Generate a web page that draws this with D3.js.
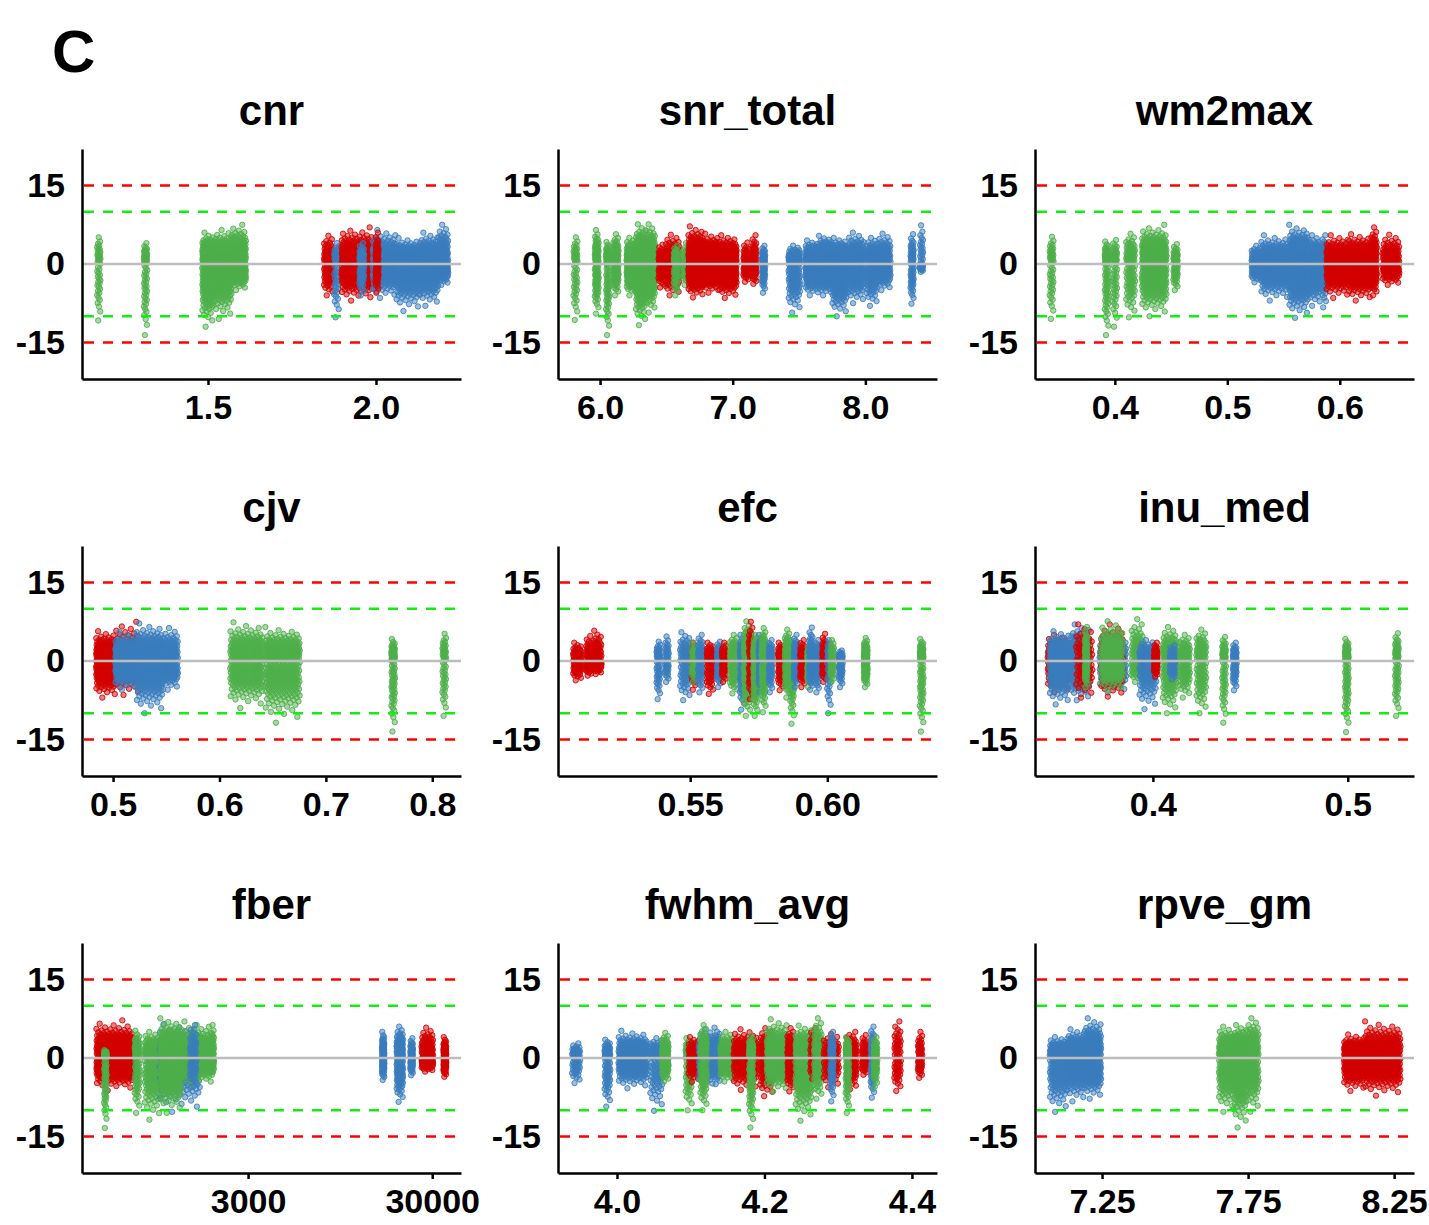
<!DOCTYPE html>
<html>
<head>
<meta charset="utf-8">
<script src="https://cdn.jsdelivr.net/npm/d3@7"></script>
<style>
  body { margin: 0; background: #fff; }
  svg { display: block; }
  text { font-family: "Liberation Sans", Arial, sans-serif; font-weight: bold; fill: #000; }
</style>
</head>
<body>
<svg id="chart" width="1429" height="1225"></svg>
<script>
// panel titles, x domains and x ticks
const panelNames = ["cnr", "snr_total", "wm2max", "cjv", "efc", "inu_med", "fber", "fwhm_avg", "rpve_gm"];
const xDomains = [[1.125, 2.253], [5.683, 8.54], [0.329, 0.666], [0.4708, 0.827], [0.5018, 0.640],
                  [0.3395, 0.534], [376, 43000], [3.920, 4.434], [7.0205, 8.318]];
const xTicks = [[1.5, 2.0], [6, 7, 8], [0.4, 0.5, 0.6], [0.5, 0.6, 0.7, 0.8], [0.55, 0.60],
                [0.4, 0.5], [3000, 30000], [4.0, 4.2, 4.4], [7.25, 7.75, 8.25]];
const xTickLabels = [["1.5", "2.0"], ["6.0", "7.0", "8.0"], ["0.4", "0.5", "0.6"], ["0.5", "0.6", "0.7", "0.8"],
                     ["0.55", "0.60"], ["0.4", "0.5"], ["3000", "30000"], ["4.0", "4.2", "4.4"], ["7.25", "7.75", "8.25"]];
const yTicks = [-15, 0, 15];
const yTickLabels = ["-15", "0", "15"];
const yDomain = [-22, 22];
const limitLines = [15, 10, -10, -15];
const limitColors = ["#ff0000", "#11ee11", "#11ee11", "#ff0000"];

// jittered columns: [x from, x to, lowest y, highest y, number of points, group]
const cnrCols = [
  [1.170, 1.180, -10.8, 5.1, 45, "g"], [1.309, 1.319, -13.6, 4.0, 60, "g"],
  [1.483, 1.515, -12.0, 6.0, 250, "g"], [1.515, 1.570, -10.5, 6.5, 320, "g"], [1.570, 1.613, -5.0, 7.5, 280, "g"],
  [1.845, 1.872, -6.0, 5.4, 100, "r"], [1.875, 1.890, -10.2, 4.0, 50, "b"], [1.897, 1.990, -7.0, 7.0, 400, "r"],
  [1.950, 1.965, -6.0, 4.0, 60, "b"], [1.990, 2.060, -6.5, 6.5, 250, "b"], [1.998, 2.008, -5.5, 6.0, 60, "r"],
  [2.060, 2.130, -9.0, 5.0, 300, "b"], [2.130, 2.185, -8.0, 6.0, 250, "b"], [2.185, 2.215, -4.0, 7.5, 150, "b"]
];
const snrCols = [
  [5.80, 5.83, -10.7, 5.1, 50, "g"], [5.96, 5.99, -9.5, 6.5, 90, "g"], [6.045, 6.07, -13.6, 4.2, 80, "g"],
  [6.10, 6.14, -6.0, 5.7, 100, "g"], [6.20, 6.27, -6.0, 5.0, 200, "g"], [6.27, 6.345, -11.7, 7.6, 250, "g"],
  [6.345, 6.415, -9.3, 7.6, 200, "g"], [6.44, 6.48, -4.5, 3.7, 60, "r"], [6.49, 6.60, -6.0, 5.6, 150, "r"],
  [6.555, 6.59, -6.0, 3.5, 60, "g"], [6.625, 6.665, -4.0, 4.0, 50, "g"], [6.665, 6.78, -6.4, 7.2, 300, "r"],
  [6.78, 6.90, -5.5, 5.8, 300, "r"], [6.90, 7.03, -6.5, 5.5, 300, "r"], [7.08, 7.12, -3.4, 4.1, 60, "r"],
  [7.145, 7.18, -3.8, 5.5, 60, "r"], [7.22, 7.245, -5.5, 3.5, 60, "b"], [7.42, 7.51, -9.3, 3.5, 150, "b"],
  [7.55, 7.65, -6.0, 4.5, 300, "b"], [7.65, 7.75, -6.0, 5.4, 350, "b"], [7.75, 7.86, -10.0, 5.0, 300, "b"],
  [7.87, 7.99, -7.5, 6.0, 200, "b"], [8.01, 8.09, -8.0, 5.0, 150, "b"], [8.09, 8.19, -5.0, 5.8, 150, "b"],
  [8.34, 8.365, -7.6, 5.7, 60, "b"], [8.41, 8.435, -1.5, 7.4, 40, "b"]
];
const wm2Cols = [
  [0.342, 0.3455, -10.5, 5.2, 50, "g"], [0.391, 0.3945, -13.6, 4.3, 80, "g"], [0.398, 0.402, -12.0, 4.6, 60, "g"],
  [0.410, 0.418, -10.2, 5.8, 100, "g"], [0.424, 0.446, -10.0, 7.5, 400, "g"], [0.452, 0.456, -5.0, 3.8, 60, "g"],
  [0.5215, 0.530, -3.5, 3.5, 100, "b"], [0.530, 0.555, -7.0, 5.5, 300, "b"], [0.555, 0.572, -10.3, 7.5, 350, "b"],
  [0.572, 0.583, -8.0, 5.5, 200, "b"], [0.584, 0.588, -8.3, 5.5, 60, "b"], [0.588, 0.608, -6.5, 5.5, 250, "r"],
  [0.608, 0.628, -7.0, 5.7, 300, "r"], [0.628, 0.633, -6.0, 7.0, 100, "r"], [0.638, 0.653, -4.0, 5.6, 150, "r"]
];
const cjvCols = [
  [0.484, 0.503, -7.0, 5.7, 300, "r"], [0.503, 0.525, -6.5, 7.5, 120, "r"], [0.502, 0.522, -5.5, 5.5, 250, "b"],
  [0.522, 0.547, -10.0, 7.2, 300, "b"], [0.547, 0.561, -5.5, 6.3, 150, "b"], [0.610, 0.641, -9.0, 7.4, 300, "g"],
  [0.643, 0.6755, -11.8, 6.5, 350, "g"], [0.7615, 0.765, -13.5, 4.2, 80, "g"], [0.8095, 0.813, -10.5, 5.2, 50, "g"]
];
const efcCols = [
  [0.5073, 0.5104, -3.7, 3.5, 80, "r"], [0.5120, 0.5140, -2.8, 4.8, 60, "r"], [0.5146, 0.5177, -2.5, 5.8, 80, "r"],
  [0.5377, 0.5391, -7.3, 3.7, 50, "b"], [0.5408, 0.5422, -4.0, 4.7, 40, "b"], [0.5463, 0.5500, -7.5, 5.5, 80, "b"],
  [0.5505, 0.5520, -5.5, 3.5, 40, "r"], [0.5505, 0.5520, -4.0, 3.5, 40, "g"], [0.5528, 0.5546, -6.0, 5.0, 60, "b"],
  [0.5560, 0.5585, -6.3, 3.5, 80, "r"], [0.5597, 0.5612, -5.0, 3.7, 60, "b"], [0.5615, 0.5630, -4.0, 3.5, 50, "r"],
  [0.5645, 0.5673, -6.2, 5.0, 100, "g"], [0.5681, 0.5697, -9.3, 5.0, 80, "b"], [0.5695, 0.5720, -10.5, 7.6, 150, "g"],
  [0.5713, 0.5727, -7.3, 7.5, 50, "r"], [0.5730, 0.5746, -10.5, 5.0, 150, "g"], [0.5749, 0.5763, -6.0, 5.0, 80, "b"],
  [0.5760, 0.5776, -9.8, 6.3, 100, "g"], [0.5786, 0.5800, -6.0, 4.0, 60, "b"], [0.5820, 0.5840, -5.6, 3.5, 80, "r"],
  [0.5845, 0.5863, -7.0, 6.0, 100, "g"], [0.5865, 0.5879, -12.0, 4.0, 80, "g"], [0.5877, 0.5891, -5.0, 5.0, 60, "b"],
  [0.5900, 0.5918, -5.0, 4.0, 60, "r"], [0.5926, 0.5940, -5.0, 3.0, 60, "g"], [0.5933, 0.5947, -5.5, 6.4, 60, "b"],
  [0.5956, 0.5970, -6.0, 4.0, 60, "b"], [0.5981, 0.5995, -4.0, 5.2, 60, "r"], [0.5999, 0.6013, -10.0, 4.0, 40, "b"],
  [0.6011, 0.6025, -4.0, 4.0, 40, "g"], [0.6042, 0.6056, -5.0, 2.0, 60, "b"], [0.6133, 0.6147, -5.0, 4.4, 100, "g"],
  [0.6337, 0.6351, -13.5, 4.2, 80, "g"]
];
const inuCols = [
  [0.346, 0.357, -6.0, 5.0, 200, "r"], [0.347, 0.357, -8.3, 5.7, 250, "b"], [0.358, 0.3674, -7.5, 7.0, 250, "b"],
  [0.3605, 0.369, -7.0, 7.0, 80, "r"], [0.3650, 0.3665, -5.0, 6.5, 60, "g"], [0.3726, 0.3863, -6.0, 5.0, 200, "b"],
  [0.3734, 0.3846, -6.8, 7.0, 150, "r"], [0.3734, 0.3846, -5.6, 7.6, 200, "g"], [0.389, 0.395, -4.0, 8.0, 100, "g"],
  [0.393, 0.4017, -9.2, 4.0, 150, "b"], [0.4005, 0.4025, -3.0, 3.5, 60, "r"], [0.405, 0.412, -10.0, 6.5, 150, "g"],
  [0.4086, 0.412, -3.5, 3.0, 60, "b"], [0.4137, 0.419, -7.0, 5.0, 100, "g"], [0.4223, 0.4274, -10.0, 6.0, 100, "g"],
  [0.4355, 0.4375, -11.8, 4.6, 60, "g"], [0.441, 0.443, -5.6, 3.5, 60, "b"], [0.4985, 0.5005, -13.6, 4.2, 80, "g"],
  [0.5242, 0.5262, -10.5, 5.3, 60, "g"]
];
const fberCols = [
  [450, 711, -6.2, 7.2, 500, "r"], [495, 512, -13.4, 1.5, 80, "g"], [726, 773, -10.5, 5.2, 80, "g"],
  [822, 1000, -11.8, 5.0, 200, "g"], [993, 1641, -10.3, 6.5, 300, "b"], [1000, 1300, -10.5, 7.6, 350, "g"],
  [1300, 1937, -5.0, 7.0, 300, "g"], [1445, 1574, -5.5, 6.3, 60, "b"], [1900, 1960, -2.5, 6.3, 40, "g"],
  [16000, 16500, -4.2, 5.0, 80, "b"], [19200, 20850, -8.4, 6.0, 150, "b"], [22800, 23600, -3.3, 3.8, 60, "b"],
  [26250, 30360, -2.6, 5.8, 150, "r"], [34500, 35800, -3.6, 4.0, 80, "r"]
];
const fwhmCols = [
  [3.939, 3.950, -4.8, 2.8, 60, "b"], [3.983, 3.991, -9.3, 3.5, 80, "b"], [4.002, 4.041, -5.8, 5.2, 300, "b"],
  [4.045, 4.062, -10.1, 3.8, 100, "b"], [4.061, 4.070, -4.5, 4.8, 100, "g"], [4.093, 4.102, -10.0, 3.8, 80, "g"],
  [4.097, 4.111, -4.6, 4.0, 80, "r"], [4.111, 4.131, -5.5, 5.5, 150, "b"], [4.113, 4.122, -10.0, 6.3, 100, "g"],
  [4.131, 4.140, -5.0, 5.8, 80, "b"], [4.140, 4.158, -4.5, 5.0, 150, "g"], [4.158, 4.190, -6.1, 5.5, 200, "r"],
  [4.179, 4.185, -13.3, 4.2, 100, "g"], [4.194, 4.212, -7.3, 5.7, 150, "r"], [4.203, 4.231, -6.4, 7.4, 250, "g"],
  [4.231, 4.240, -6.4, 5.7, 100, "r"], [4.242, 4.264, -12.0, 6.2, 250, "g"], [4.262, 4.271, -4.0, 5.7, 60, "r"],
  [4.267, 4.278, -7.8, 7.6, 100, "g"], [4.280, 4.301, -5.6, 4.6, 100, "r"], [4.289, 4.294, -8.3, 5.0, 60, "b"],
  [4.312, 4.325, -6.0, 5.0, 120, "r"], [4.310, 4.315, -10.5, 4.0, 80, "g"], [4.332, 4.339, -3.2, 4.4, 60, "r"],
  [4.344, 4.349, -7.6, 6.0, 60, "b"], [4.348, 4.353, -5.5, 4.0, 60, "g"], [4.376, 4.385, -6.3, 7.0, 60, "r"],
  [4.408, 4.414, -3.8, 5.0, 50, "r"]
];
const rpveCols = [
  [7.071, 7.130, -10.3, 4.0, 200, "b"], [7.130, 7.190, -8.3, 5.5, 250, "b"], [7.190, 7.247, -7.8, 7.6, 250, "b"],
  [7.650, 7.700, -10.3, 6.0, 200, "g"], [7.700, 7.745, -13.3, 6.3, 250, "g"], [7.745, 7.786, -10.3, 7.6, 150, "g"],
  [8.078, 8.150, -6.3, 4.5, 250, "r"], [8.150, 8.272, -7.2, 7.0, 350, "r"]
];
const panelColumns = [cnrCols, snrCols, wm2Cols, cjvCols, efcCols, inuCols, fberCols, fwhmCols, rpveCols];

const groupColor = { r: "#d40000", b: "#3a7dbd", g: "#4daf4a" };

// layout
const colLeft = [82, 558, 1035];
const rowTop = [149, 546, 943];
const W = 379, H = 230;

const svg = d3.select("#chart");

// normal quantile (Abramowitz & Stegun 26.2.23)
function qnorm(p) {
  const q = p < 0.5 ? p : 1 - p;
  const t = Math.sqrt(-2 * Math.log(q));
  const z = t - (2.515517 + 0.802853 * t + 0.010328 * t * t) /
                (1 + 1.432788 * t + 0.189269 * t * t + 0.001308 * t * t * t);
  return p < 0.5 ? -z : z;
}

// spread a column's points: evenly spaced quantiles in y, golden-ratio jitter in x
function columnPoints([x0, x1, lo, hi, n, grp], x) {
  const zmax = qnorm(1 - 0.5 / n);
  const pts = [];
  for (let i = 0; i < n; i++) {
    const z = qnorm((i + 0.5) / n) / zmax;
    const f = Math.pow(Math.abs(z), 0.78);
    const v = (i * 0.6180339887 + 0.31) % 1;
    pts.push({
      px: x(x0) + v * (x(x1) - x(x0)),
      val: z < 0 ? f * lo : f * hi,
      grp
    });
  }
  return pts;
}

svg.append("text")
  .attr("x", 52).attr("y", 72)
  .style("font-size", "60px")
  .text("C");

panelNames.forEach((name, idx) => {
  const left = colLeft[idx % 3];
  const top = rowTop[Math.floor(idx / 3)];

  const x = (idx === 6 ? d3.scaleLog() : d3.scaleLinear())
    .domain(xDomains[idx]).range([left, left + W]);
  const y = d3.scaleLinear().domain(yDomain).range([top + H, top]);

  const g = svg.append("g");

  g.append("text")
    .attr("x", left + W / 2).attr("y", top - 24)
    .attr("text-anchor", "middle")
    .style("font-size", "42px")
    .text(name);

  const pts = panelColumns[idx].flatMap(c => columnPoints(c, x));
  g.append("g").selectAll("circle")
    .data(pts)
    .join("circle")
    .attr("cx", d => d.px)
    .attr("cy", d => y(d.val))
    .attr("r", 2.7)
    .attr("fill", d => groupColor[d.grp])
    .attr("fill-opacity", 0.5)
    .attr("stroke", d => groupColor[d.grp])
    .attr("stroke-opacity", 0.85)
    .attr("stroke-width", 1);

  g.append("line")
    .attr("x1", left).attr("x2", left + W)
    .attr("y1", y(0)).attr("y2", y(0))
    .attr("stroke", "#bdbdbd").attr("stroke-width", 2.5);

  limitLines.forEach((v, i) => {
    g.append("line")
      .attr("x1", left + 2).attr("x2", left + W)
      .attr("y1", y(v)).attr("y2", y(v))
      .attr("stroke", limitColors[i]).attr("stroke-width", 2.5)
      .attr("stroke-dasharray", "10 9");
  });

  const xAxis = d3.axisBottom(x)
    .tickValues(xTicks[idx])
    .tickFormat((d, i) => xTickLabels[idx][i])
    .tickSize(6).tickSizeOuter(0).tickPadding(10);
  const yAxis = d3.axisLeft(y)
    .tickValues(yTicks)
    .tickFormat((d, i) => yTickLabels[i])
    .tickSize(0).tickSizeOuter(0).tickPadding(17);

  g.append("g")
    .attr("transform", `translate(0,${top + H})`)
    .call(xAxis)
    .call(a => a.selectAll("line, path").attr("stroke", "#000").attr("stroke-width", 2.5))
    .call(a => a.selectAll("text").style("font-size", "34px").attr("font-family", null));
  g.append("g")
    .attr("transform", `translate(${left},0)`)
    .call(yAxis)
    .call(a => a.selectAll("line, path").attr("stroke", "#000").attr("stroke-width", 2.5))
    .call(a => a.selectAll("text").style("font-size", "34px").attr("font-family", null));
});
</script>
</body>
</html>
